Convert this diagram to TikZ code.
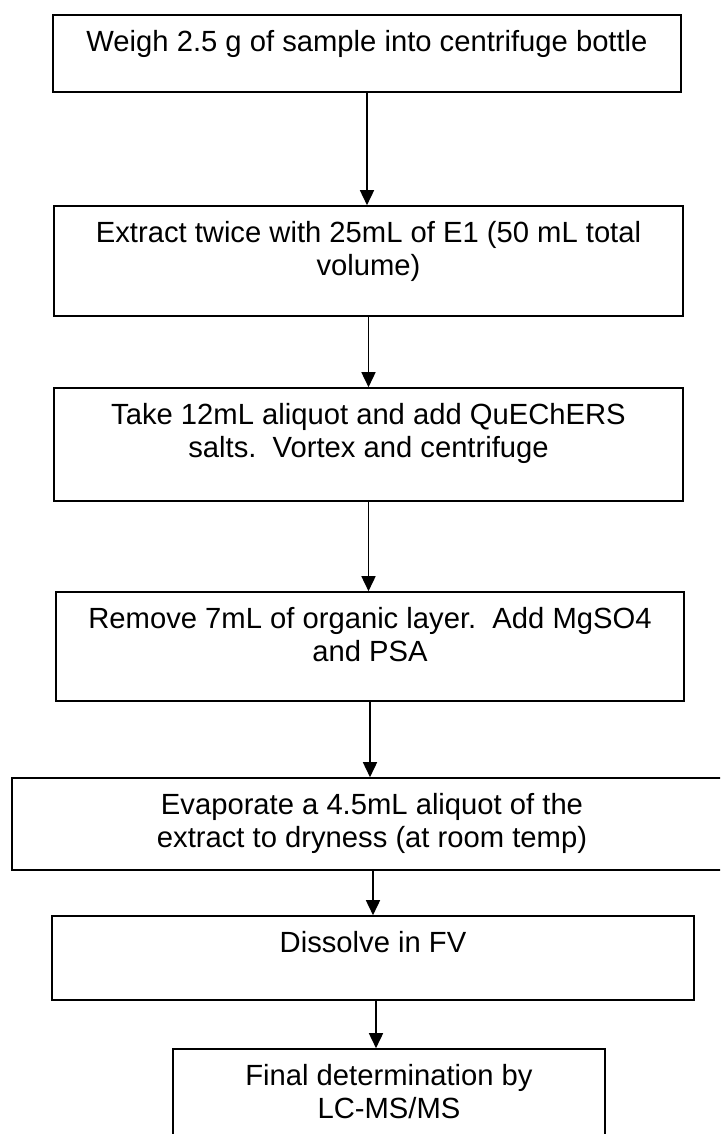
\documentclass[tikz,border=0pt]{standalone}
\usepackage{fontspec}
\setmainfont{Liberation Sans}
\usetikzlibrary{arrows.meta}

\begin{document}
\begin{tikzpicture}[x=0.5pt, y=-0.5pt,
    stepbox/.style={draw, thick, inner sep=0pt},
    steptext/.style={anchor=north, align=center, inner sep=0pt, yshift=-8pt,
        font=\fontsize{14.6}{16.5}\selectfont},
    >={Triangle[length=7.5pt, width=7pt]}]
    \useasboundingbox (0,0) rectangle (720,1134);
    \clip (0,0) rectangle (720,1134);

    \node [stepbox, minimum width=314pt, minimum height=38.5pt] (weigh) at (367,53.5) {};
    \node [steptext] (weigh-t) at (weigh.north) {Weigh 2.5 g of sample into centrifuge bottle};

    \node [stepbox, minimum width=314.5pt, minimum height=55pt] (extract) at (368.5,261) {};
    \node [steptext] (extract-t) at (extract.north) {Extract twice with 25mL of E1 (50 mL total\\volume)};

    \node [stepbox, minimum width=314.5pt, minimum height=56.5pt] (aliquot) at (368.5,444.5) {};
    \node [steptext] (aliquot-t) at (aliquot.north) {Take 12mL aliquot and add QuEChERS\\salts.\ \ Vortex and centrifuge};

    \node [stepbox, minimum width=314pt, minimum height=54.5pt] (clean) at (370,646.5) {};
    \node [steptext] (clean-t) at (clean.north) {Remove 7mL of organic layer.\ \ Add MgSO4\\and PSA};

    \node [stepbox, minimum width=364pt, minimum height=46pt] (evap) at (376,824) {};
    \node [steptext, xshift=-2pt] (evap-t) at (evap.north) {Evaporate a 4.5mL aliquot of the\\extract to dryness (at room temp)};

    \node [stepbox, minimum width=321pt, minimum height=42pt] (dissolve) at (373,958) {};
    \node [steptext] (dissolve-t) at (dissolve.north) {Dissolve in FV};

    \node [stepbox, minimum width=216pt, minimum height=55.5pt] (final) at (389,1104.5) {};
    \node [steptext] (final-t) at (final.north) {Final determination by\\LC-MS/MS};

    \draw [thick, ->] (weigh.south) -- (weigh.south |- extract.north);
    \draw [thick, ->] (extract.south) -- (extract.south |- aliquot.north);
    \draw [thick, ->] (aliquot.south) -- (aliquot.south |- clean.north);
    \draw [thick, ->] (clean.south) -- (clean.south |- evap.north);
    \draw [thick, ->] (dissolve.north |- evap.south) -- (dissolve.north);
    \draw [thick, ->] ([xshift=1.5pt]dissolve.south) -- ([xshift=1.5pt]dissolve.south |- final.north);
\end{tikzpicture}
\end{document}
